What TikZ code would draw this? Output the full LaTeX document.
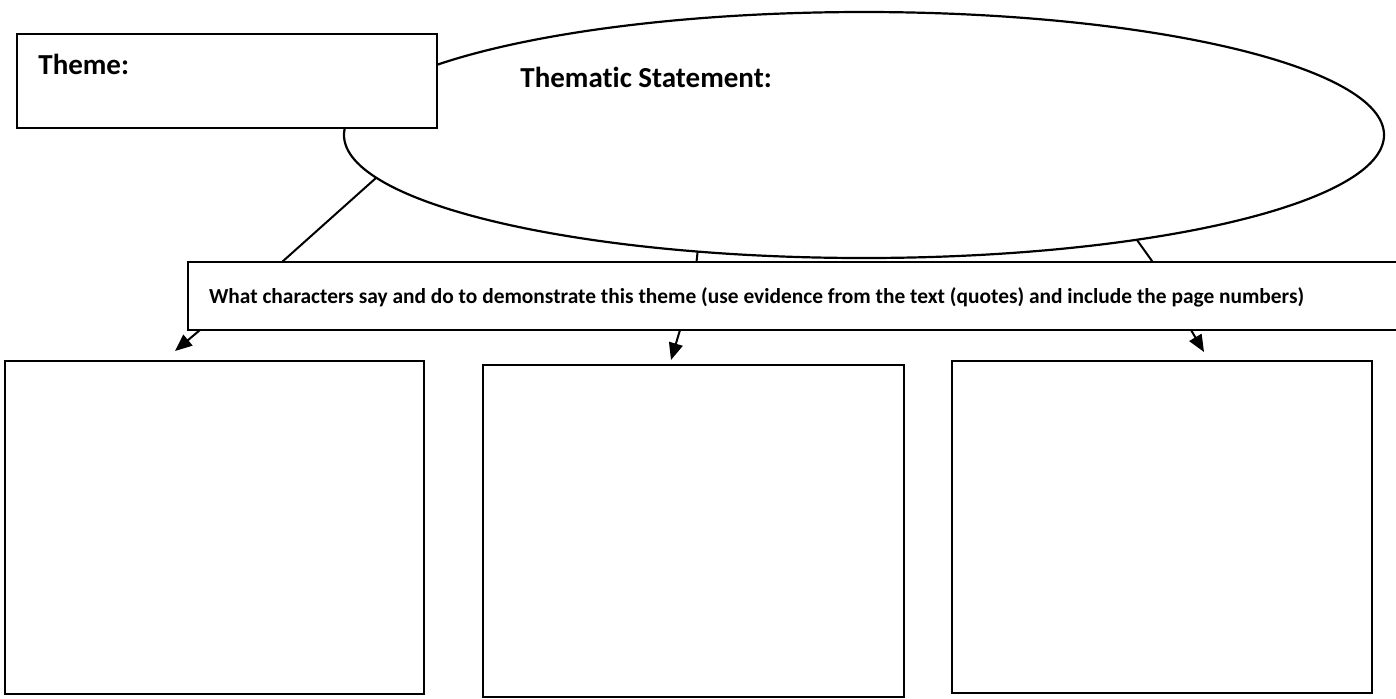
\documentclass[tikz,border=0pt]{standalone}
\usepackage{fontspec}
\setmainfont{Carlito}[Ligatures=NoCommon]
\usetikzlibrary{arrows.meta,calc,positioning,shapes.geometric}

\begin{document}
\begin{tikzpicture}[x=0.5pt,y=-0.5pt,
    panel/.style={draw,line width=1.2pt,fill=white,inner sep=0pt,outer sep=0pt},
    headfont/.style={font=\fontsize{14.5}{17}\selectfont\bfseries},
    link/.style={line width=1pt},
    pointer/.style={line width=1pt,-{Triangle[length=8.5pt,width=7pt]}}]
  \useasboundingbox (0,0) rectangle (1396,698);
  % statement bubble, the theme box sits on top of it
  \node[ellipse,draw,line width=1.1pt,inner sep=0pt,outer sep=0pt,
    minimum width=520pt,minimum height=123pt] (statement) at (864,135) {};
  \node[headfont,anchor=base west,inner sep=0pt] (statementlbl) at (520,87) {Thematic Statement:};
  \node[panel,minimum width=210pt,minimum height=47pt] (theme) at (227,81) {};
  \node[headfont,anchor=base west,inner sep=0pt] (themelbl) at (38,74) {Theme:};
  % evidence banner
  \node[panel,minimum width=607pt,minimum height=34pt,inner xsep=10.5pt,
    text width=586pt,text height=8.5pt,text depth=1.5pt,align=flush left,
    font=\fontsize{10.7}{12}\selectfont\bfseries] (evidence) at (795,296)
    {What characters say and do to demonstrate this theme (use evidence from the text (quotes) and include the page numbers)};
  % answer boxes
  \node[panel,minimum width=209.5pt,minimum height=166.5pt] (leftbox) at (214.5,527.5) {};
  \node[panel,minimum width=210.5pt,minimum height=166pt] (midbox) at (693.5,531) {};
  \node[panel,minimum width=210pt,minimum height=166pt] (rightbox) at (1162,527) {};
  % connectors
  \draw[link] (statement.185.5) -- (282,0 |- evidence.north);
  \draw[link] (statement.215.6) -- (696.5,0 |- evidence.north);
  \draw[link] (statement.339) -- (1152.7,0 |- evidence.north);
  \coordinate (lefttip) at (175,351);
  \coordinate (midtip) at (671,360);
  \coordinate (righttip) at (1204,352);
  \draw[pointer] (200,0 |- evidence.south) -- (lefttip);
  \draw[pointer] (680,0 |- evidence.south) -- (midtip);
  \draw[pointer] (1191,0 |- evidence.south) -- (righttip);
\end{tikzpicture}
\end{document}
